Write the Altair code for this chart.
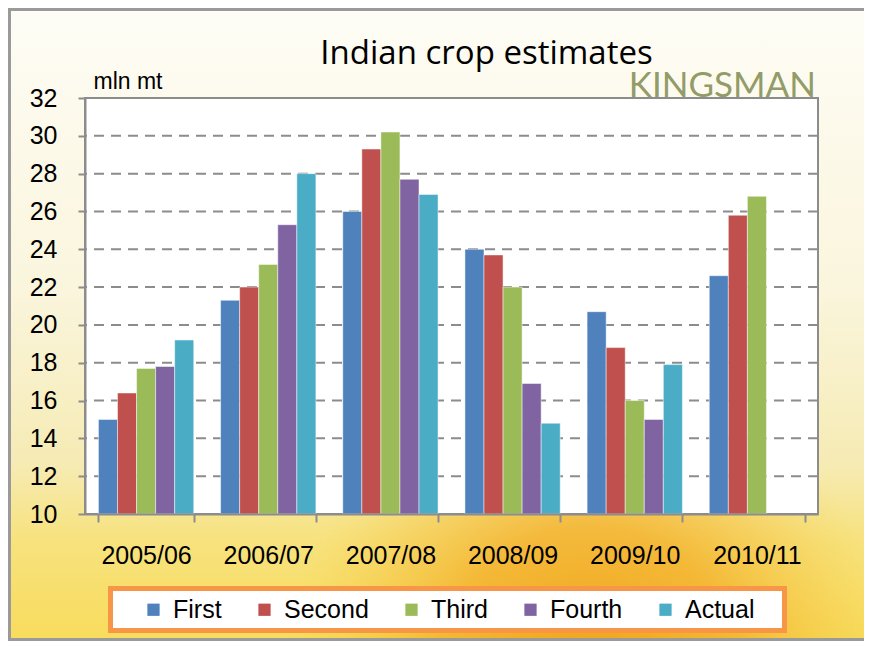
import altair as alt
import pandas as pd

# ---- data ----
seasons = ["2005/06", "2006/07", "2007/08", "2008/09", "2009/10", "2010/11"]
series = ["First", "Second", "Third", "Fourth", "Actual"]
first = [15.0, 21.3, 26.0, 24.0, 20.7, 22.6]
second = [16.4, 22.0, 29.3, 23.7, 18.8, 25.8]
third = [17.7, 23.2, 30.2, 22.0, 16.0, 26.8]
fourth = [17.8, 25.3, 27.7, 16.9, 15.0, None]
actual = [19.2, 28.0, 26.9, 14.8, 17.9, None]
colors = ["#4f81bd", "#c0504d", "#9bbb59", "#8064a2", "#4bacc6"]
y_ticks = list(range(10, 33, 2))

rows = []
for name, vals in zip(series, [first, second, third, fourth, actual]):
    for s, v in zip(seasons, vals):
        if v is not None:
            rows.append({"season": s, "series": name, "value": v})
df = pd.DataFrame(rows)
grid_df = pd.DataFrame({"value": y_ticks[1:-1]})
one = pd.DataFrame({"a": [0]})

W, H = 733, 416
PL, PT, PR, PB = 77, 90, 46, 127
GRAY = "#8c8c8c"
FONT = "Liberation Sans"

yscale = alt.Scale(domain=[10, 32], nice=False, zero=False)
y_axis = alt.Axis(
    values=y_ticks, grid=False, title="mln mt", titleAngle=0, titleAlign="left",
    titleBaseline="alphabetic", titleX=8, titleY=-10, titleFont=FONT, titleFontSize=23,
    titleFontWeight="normal", titleColor="black",
    labelFont=FONT, labelFontSize=25, labelColor="black", labelPadding=21,
    tickSize=7, tickColor=GRAY, tickWidth=2, domainColor=GRAY, domainWidth=2, zindex=1,
)

bg_linear = {
    "gradient": "linear", "x1": 0, "y1": 0, "x2": 0, "y2": 1,
    "stops": [
        {"offset": 0.0, "color": "#fefdf6"},
        {"offset": 0.45, "color": "#faf5dc"},
        {"offset": 0.72, "color": "#f6ebb4"},
        {"offset": 0.84, "color": "#f7e27e"},
        {"offset": 1.0, "color": "#f8dc5c"},
    ],
}
bg_glow = {
    "gradient": "radial", "x1": 0.68, "y1": 0.92, "x2": 0.68, "y2": 0.92,
    "r1": 0, "r2": 0.36,
    "stops": [
        {"offset": 0.0, "color": "rgba(240,158,20,0.95)"},
        {"offset": 0.5, "color": "rgba(242,168,30,0.7)"},
        {"offset": 1.0, "color": "rgba(245,200,60,0)"},
    ],
}

background = alt.Chart(one).mark_rect(fill=bg_linear).encode(
    x=alt.value(-PL), x2=alt.value(W + PR), y=alt.value(-PT), y2=alt.value(H + PB)
)
glow = alt.Chart(one).mark_rect(fill=bg_glow).encode(
    x=alt.value(-PL), x2=alt.value(W + PR), y=alt.value(-PT), y2=alt.value(H + PB)
)
frame = alt.Chart(one).mark_rect(fill="white", fillOpacity=0, stroke="#9a9a9a", strokeWidth=3).encode(
    x=alt.value(-PL + 1.5), x2=alt.value(W + PR + 20), y=alt.value(-PT + 1.5), y2=alt.value(H + PB - 1.5)
)
plot_bg = alt.Chart(one).mark_rect(fill="white", stroke=GRAY, strokeWidth=2).encode(
    x=alt.value(0), x2=alt.value(W), y=alt.value(0), y2=alt.value(H)
)
grid = alt.Chart(grid_df).mark_rule(color=GRAY, strokeWidth=2, strokeDash=[10, 7]).encode(
    y=alt.Y("value:Q", scale=yscale, axis=y_axis)
)
legend_box = alt.Chart(one).mark_rect(fill="white", stroke="#f79646", strokeWidth=5).encode(
    x=alt.value(25.5), x2=alt.value(699.5), y=alt.value(490.5), y2=alt.value(532.5)
)
brand = alt.Chart(one).mark_text(
    text="KINGSMAN", font="Lato", fontSize=35, color="#939c68", align="right", baseline="alphabetic"
).encode(x=alt.value(731), y=alt.value(-1))

bars = alt.Chart(df).mark_bar(stroke="white", strokeWidth=0.8, strokeOpacity=0.6).encode(
    x=alt.X(
        "season:N", sort=seasons,
        scale=alt.Scale(domain=seasons, paddingInner=0.22, paddingOuter=0.11),
        axis=alt.Axis(
            title=None, labelAngle=0, labelFont=FONT, labelFontSize=25, labelColor="black",
            labelPadding=21, tickBand="extent", tickSize=8, tickColor=GRAY, tickWidth=2,
            domainColor=GRAY, domainWidth=2, zindex=1,
        ),
    ),
    xOffset=alt.XOffset("series:N", sort=series, scale=alt.Scale(domain=series, paddingInner=0, paddingOuter=0)),
    y=alt.Y("value:Q", scale=yscale, axis=y_axis),
    y2=alt.datum(10),
    color=alt.Color(
        "series:N", sort=series, scale=alt.Scale(domain=series, range=colors),
        legend=alt.Legend(
            title=None, orient="none", legendX=56, legendY=499, direction="horizontal",
            symbolType="square", symbolSize=150, symbolStrokeWidth=0, symbolOpacity=1,
            labelFont=FONT, labelFontSize=25, labelColor="black", labelOffset=7,
            columnPadding=30, padding=0,
        ),
    ),
)

chart = alt.layer(
    background, glow, frame, plot_bg, grid, legend_box, brand, bars
).properties(
    width=W, height=H,
    padding={"left": PL, "top": PT, "right": PR, "bottom": PB},
    autosize="none",
    title=alt.TitleParams(
        text="Indian crop estimates", font="Open Sans", fontSize=33, fontWeight="normal",
        color="black", anchor="middle", dx=35, offset=-89, baseline="alphabetic",
    ),
).configure_view(stroke=None)

chart.save("out.html", embed_options={"renderer": "svg", "actions": False})
